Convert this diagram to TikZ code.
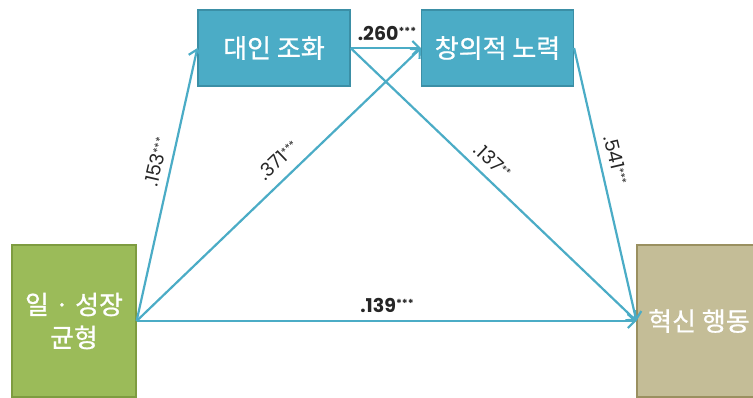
\documentclass[tikz,border=0pt]{standalone}
\usepackage{fontspec}
\usetikzlibrary{arrows.meta}
\newfontfamily\kofont{Noto Sans CJK KR}[FakeBold=0.8]
\newfontfamily\numfont{Poppins}
\newcommand\sigstars[1]{\raisebox{0.4ex}{\fontsize{11}{11}\selectfont #1}}
\definecolor{boxblue}{HTML}{4BACC6}
\definecolor{boxblueb}{HTML}{3B8FA6}
\definecolor{boxgreen}{HTML}{9BBB59}
\definecolor{boxgreenb}{HTML}{7E9C40}
\definecolor{boxtan}{HTML}{C4BD97}
\definecolor{boxtanb}{HTML}{9A9060}
\definecolor{labgray}{HTML}{262626}
\tikzset{
  midbox/.style={draw=boxblueb, line width=1.2pt, fill=boxblue, minimum width=152pt, minimum height=76pt, inner sep=0pt, text=white, font=\kofont\fontsize{26}{30}\selectfont, align=center},
  endbox/.style={draw=#1b, line width=1.2pt, fill=#1, minimum width=124pt, minimum height=152pt, inner sep=0pt, text=white, font=\kofont\fontsize{26}{33}\selectfont, align=center},
  conn/.style={draw=boxblue, line width=2.2pt, -{Straight Barb[length=7pt,width=14pt,line width=2.2pt]}},
  coef/.style={text=labgray, font=\numfont\fontsize{19}{19}\selectfont, inner sep=0pt},
  coefb/.style={coef, font=\numfont\bfseries\fontsize{19}{19}\selectfont}
}
\begin{document}
\begin{tikzpicture}[x=1pt,y=-1pt]
\useasboundingbox (0,0) rectangle (753,398);
\clip (0,0) rectangle (753,398);
\node[endbox=boxgreen] (src) at (74,321) {일 · 성장\\균형};
\node[endbox=boxtan] (dst) at (699,321) {혁신 행동};
\node[midbox] (m1) at (274,48) {대인 조화};
\node[midbox] (m2) at (497.5,48) {창의적 노력};
\draw[conn] (src.east) -- (m1.west);
\draw[conn] (src.east) -- (m2.west);
\draw[conn] (m1.east) -- (m2.west);
\draw[conn] (m1.east) -- (dst.west);
\draw[conn] (m2.east) -- (dst.west);
\draw[conn] (src.east) -- (dst.west);
\node[coefb] (l260) at (387,33) {.260\sigstars{***}};
\node[coefb] (l139) at (387,305) {.139\sigstars{***}};
\node[coef, rotate=77] (l153) at (156,162) {.153\sigstars{***}};
\node[coef, rotate=43.7] (l371) at (278,160) {.371\sigstars{***}};
\node[coef, rotate=-43.6] (l137) at (493,161) {.137\sigstars{**}};
\node[coef, rotate=-76.8] (l541) at (616,160) {.541\sigstars{***}};
\end{tikzpicture}
\end{document}
